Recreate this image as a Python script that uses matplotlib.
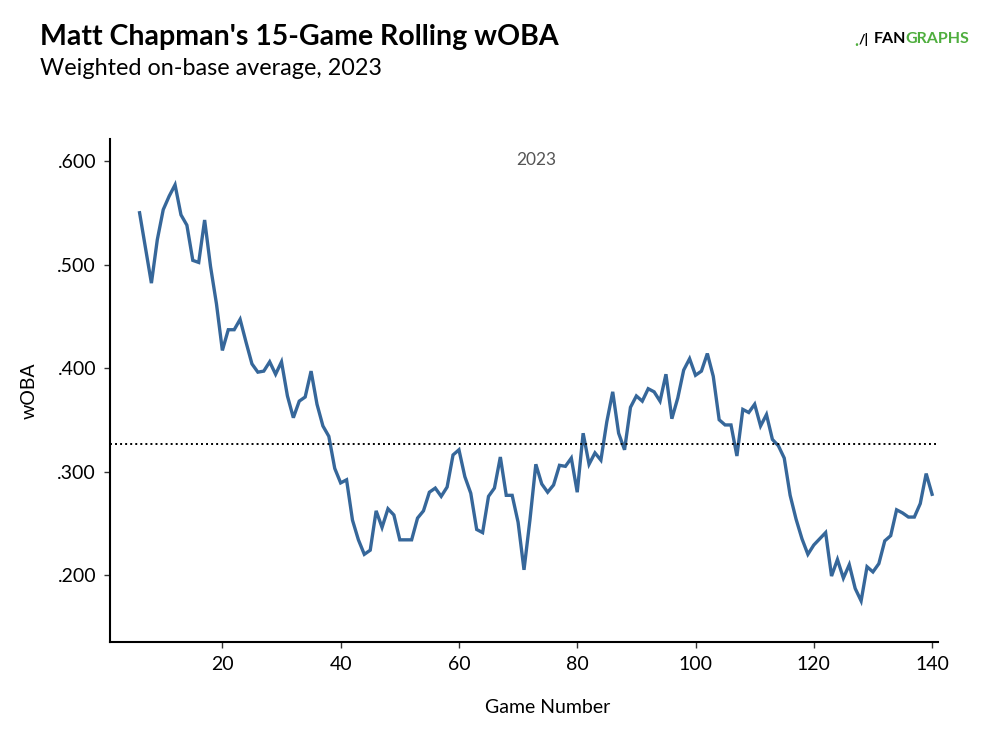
import numpy as np
import matplotlib.pyplot as plt

plt.rcParams['font.family'] = ['Lato', 'DejaVu Sans']

# ---------------- Datos ----------------
games = list(range(6, 141))
woba = [
    .550, .516, .482, .524, .553, .566, .577, .548, .538, .504,   # 6-15
    .502, .543, .498, .462, .417, .437, .437, .447, .425, .404,   # 16-25
    .396, .397, .406, .394, .406, .373, .352, .368, .372, .397,   # 26-35
    .365, .344, .334, .303, .289, .292, .253, .234, .220, .224,   # 36-45
    .262, .246, .264, .258, .234, .234, .234, .255, .262, .280,   # 46-55
    .284, .276, .285, .316, .321, .295, .279, .244, .241, .276,   # 56-65
    .284, .314, .277, .277, .251, .205, .253, .307, .288, .280,   # 66-75
    .287, .306, .305, .313, .280, .337, .307, .318, .311, .348,   # 76-85
    .377, .337, .321, .362, .373, .368, .380, .377, .368, .394,   # 86-95
    .351, .371, .398, .409, .393, .397, .414, .392, .350, .345,   # 96-105
    .345, .315, .360, .357, .365, .344, .355, .331, .325, .313,   # 106-115
    .277, .254, .235, .220, .229, .235, .241, .199, .215, .197,   # 116-125
    .210, .187, .175, .208, .203, .211, .233, .238, .263, .260,   # 126-135
    .256, .256, .269, .298, .278,                                 # 136-140
]
league_avg = .327
y_ticks = [.200, .300, .400, .500, .600]
y_tick_labels = [".200", ".300", ".400", ".500", ".600"]
x_ticks = [20, 40, 60, 80, 100, 120, 140]

# ---------------- Figura ----------------
fig = plt.figure(figsize=(10, 7.5), dpi=100)
ax = fig.add_axes([0.110, 0.1436, 0.828, 0.6707])

ax.plot(games, woba, color="#36679a", linewidth=2.4, solid_joinstyle="miter")
ax.axhline(league_avg, color="black", linestyle=(0, (1, 1.6)), linewidth=1.4)

ax.set_xlim(1, 141)
ax.set_ylim(0.135, 0.621)
ax.set_xticks(x_ticks)
ax.set_yticks(y_ticks)
ax.set_yticklabels(y_tick_labels)
ax.tick_params(labelsize=14, length=4, width=1, color="#333333", pad=6)

for s in ["top", "right"]:
    ax.spines[s].set_visible(False)
ax.spines["left"].set_linewidth(1.5)
ax.spines["bottom"].set_linewidth(1.5)

ax.set_xlabel("Game Number", fontsize=14)
ax.xaxis.set_label_coords(0.529, -0.113)
ax.set_ylabel("wOBA", fontsize=14, labelpad=14)

ax.text(0.515, 0.958, "2023", transform=ax.transAxes, ha="center", va="center",
        fontsize=12.5, color="#555555")

# ---------------- Títulos ----------------
fig.text(0.040, 0.951, "Matt Chapman's 15-Game Rolling wOBA",
         fontsize=20.5, fontweight="bold", ha="left", va="center")
fig.text(0.040, 0.909, "Weighted on-base average, 2023",
         fontsize=16.8, ha="left", va="center")

# Logo FanGraphs (texto)
fig.text(0.854, 0.946, ".", fontsize=12, fontweight="bold",
         color="#4fae3e", ha="left", va="center")
fig.text(0.859, 0.948, "/|", fontsize=10, fontweight="bold",
         color="black", ha="left", va="center")
fig.text(0.874, 0.948, "FAN", fontsize=11.5, fontweight="bold",
         color="black", ha="left", va="center")
fig.text(0.905, 0.948, "GRAPHS", fontsize=11.5, fontweight="bold",
         color="#4fae3e", ha="left", va="center")

fig.savefig("out.png", dpi=100)
